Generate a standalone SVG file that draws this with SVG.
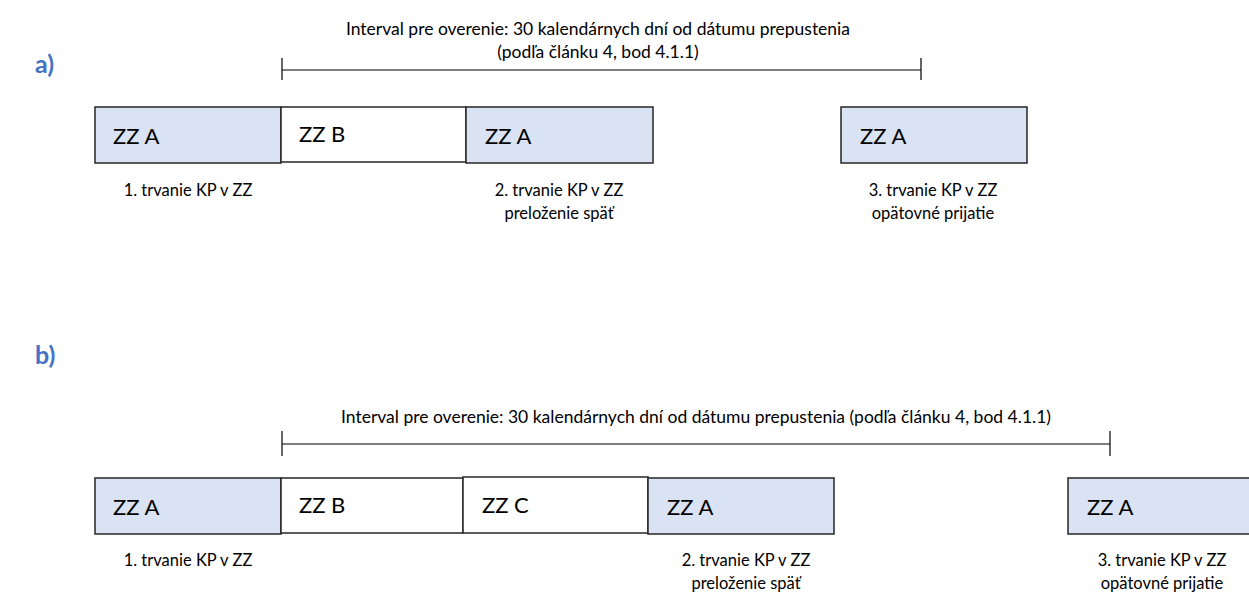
<svg xmlns="http://www.w3.org/2000/svg" width="1249" height="595" viewBox="0 0 1249 595">
<style>
.bg{fill:#ffffff}
.box{stroke:#262626;stroke-width:1.5}
.a{fill:#dae3f3}
.w{fill:#ffffff}
.bt{font-family:Lato,"Liberation Sans",sans-serif;font-size:22px;fill:#000}
.lb{font-family:Lato,"Liberation Sans",sans-serif;font-size:16.5px;fill:#000;text-anchor:middle}
.it{font-family:Lato,"Liberation Sans",sans-serif;font-size:17.5px;fill:#000;text-anchor:middle}
.hd{font-family:Lato,"Liberation Sans",sans-serif;font-size:25px;font-weight:bold;fill:#4472c4}
.ln{stroke:#000;stroke-width:1.2;fill:none}
</style>
<rect class="bg" x="0" y="0" width="1249" height="595"/>
<text class="hd" x="35" y="73">a)</text>
<text class="hd" x="35" y="364">b)</text>
<g id="connectors">
<path class="ln" d="M282,58V80M282,70H921M921,58V80"/>
<path class="ln" d="M282,431V456M282,444H1110M1110,431V456"/>
</g>
<g id="interval-a">
<text class="it" x="598" y="35">Interval pre overenie: 30 kalendárnych dní od dátumu prepustenia</text>
<text class="it" x="598" y="58">(podľa článku 4, bod 4.1.1)</text>
</g>
<g id="interval-b">
<text class="it" x="696" y="423">Interval pre overenie: 30 kalendárnych dní od dátumu prepustenia (podľa článku 4, bod 4.1.1)</text>
</g>
<g id="a-zza1"><rect class="box a" x="95" y="107" width="186" height="56"/><text class="bt" x="113" y="144">ZZ A</text></g>
<g id="a-zzb"><rect class="box w" x="281" y="107" width="185" height="55"/><text class="bt" x="299" y="142">ZZ B</text></g>
<g id="a-zza2"><rect class="box a" x="466" y="107" width="187" height="56"/><text class="bt" x="485" y="144">ZZ A</text></g>
<g id="a-zza3"><rect class="box a" x="841" y="107" width="186" height="56"/><text class="bt" x="860" y="144">ZZ A</text></g>
<g id="a-labels">
<text class="lb" x="188" y="196">1. trvanie KP v ZZ</text>
<text class="lb" x="559" y="196">2. trvanie KP v ZZ</text>
<text class="lb" x="559" y="219">preloženie späť</text>
<text class="lb" x="933" y="196">3. trvanie KP v ZZ</text>
<text class="lb" x="933" y="219">opätovné prijatie</text>
</g>
<g id="b-zza1"><rect class="box a" x="95" y="478" width="186" height="56"/><text class="bt" x="113" y="515">ZZ A</text></g>
<g id="b-zzb"><rect class="box w" x="281" y="478" width="182" height="55"/><text class="bt" x="299" y="513">ZZ B</text></g>
<g id="b-zzc"><rect class="box w" x="463" y="477" width="185" height="56"/><text class="bt" x="482" y="513">ZZ C</text></g>
<g id="b-zza2"><rect class="box a" x="648" y="478" width="186" height="56"/><text class="bt" x="667" y="515">ZZ A</text></g>
<g id="b-zza3"><rect class="box a" x="1068" y="478" width="186" height="56"/><text class="bt" x="1087" y="515">ZZ A</text></g>
<g id="b-labels">
<text class="lb" x="188" y="566">1. trvanie KP v ZZ</text>
<text class="lb" x="746" y="566">2. trvanie KP v ZZ</text>
<text class="lb" x="746" y="589">preloženie späť</text>
<text class="lb" x="1162" y="566">3. trvanie KP v ZZ</text>
<text class="lb" x="1162" y="589">opätovné prijatie</text>
</g>
</svg>
